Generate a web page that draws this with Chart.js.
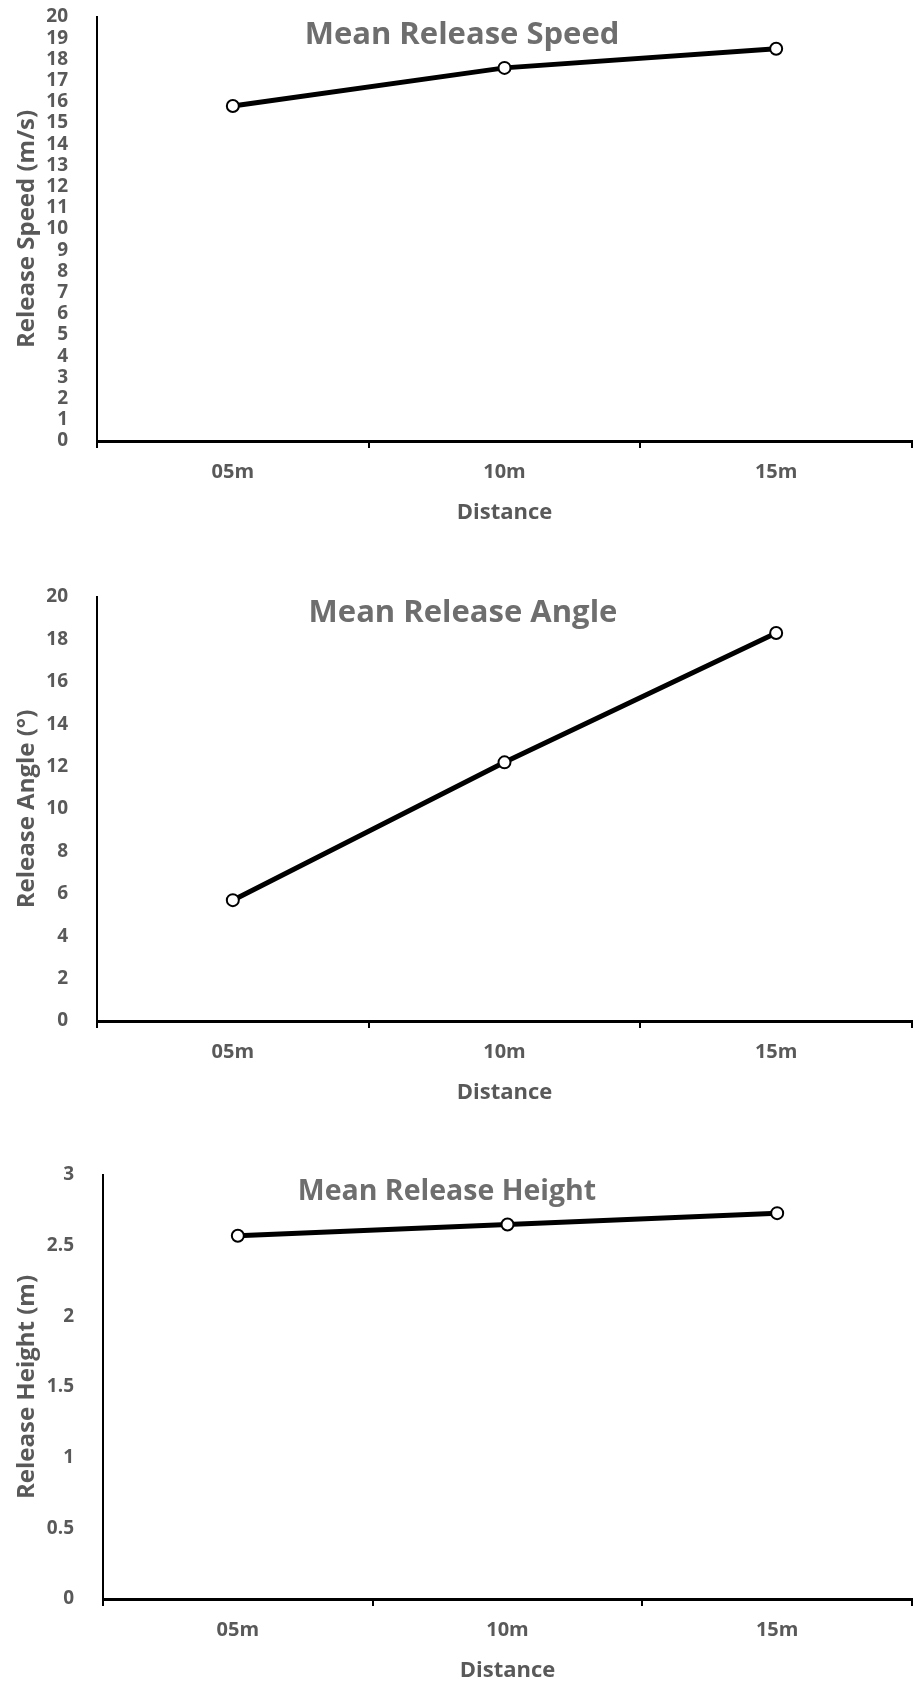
<!DOCTYPE html>
<html>
<head>
<meta charset="utf-8">
<script src="https://cdn.jsdelivr.net/npm/chart.js@4/dist/chart.umd.min.js"></script>
<style>
  body { margin: 0; background: #fff; overflow: hidden; }
  .box { position: absolute; left: 0; width: 920px; height: 524px; }
</style>
</head>
<body>
<div class="box" style="top:0px"><canvas id="speedChart"></canvas></div>
<div class="box" style="top:580px"><canvas id="angleChart"></canvas></div>
<div class="box" style="top:1158px"><canvas id="heightChart"></canvas></div>
<script>
// data
var distances = ['05m', '10m', '15m'];
var speedValues = [15.8, 17.6, 18.5];
var angleValues = [5.7, 12.2, 18.3];
var heightValues = [2.57, 2.65, 2.73];

var speedTicks = { min: 0, max: 20, step: 1 };
var angleTicks = { min: 0, max: 20, step: 2 };
var heightTicks = { min: 0, max: 3, step: 0.5 };

var FONT = '"Open Sans", Lato, sans-serif';
var GREY = '#595959';

// draws the chart title inside the plot area, like the original
var innerTitle = {
    id: 'innerTitle',
    afterDraw: function(chart, args, opts) {
        var ctx = chart.ctx;
        ctx.save();
        ctx.font = 'bold ' + opts.size + 'px ' + FONT;
        ctx.fillStyle = '#6e6e6e';
        ctx.textAlign = 'center';
        ctx.textBaseline = 'middle';
        ctx.fillText(opts.text, opts.x, opts.y);
        ctx.restore();
    }
};

function makeChart(id, values, yTitle, ticks, title, axisLeft) {
    var ctx = document.getElementById(id).getContext('2d');
    return new Chart(ctx, {
        type: 'line',
        data: {
            labels: distances,
            datasets: [{
                data: values,
                borderColor: '#000',
                borderWidth: 5,
                pointRadius: 6,
                pointHoverRadius: 6,
                pointBackgroundColor: '#fff',
                pointBorderColor: '#000',
                pointBorderWidth: 2,
                tension: 0,
                clip: false
            }]
        },
        options: {
            responsive: true,
            maintainAspectRatio: false,
            animation: false,
            layout: { padding: { top: 17, right: 0, bottom: 0, left: 0 } },
            plugins: {
                legend: { display: false },
                tooltip: { enabled: false },
                innerTitle: title
            },
            scales: {
                x: {
                    offset: true,
                    grid: {
                        offset: true,
                        drawOnChartArea: false,
                        drawTicks: true,
                        tickLength: 7,
                        color: '#000',
                        lineWidth: 2
                    },
                    border: { display: true, color: '#000', width: 3 },
                    ticks: {
                        color: GREY,
                        padding: 12,
                        font: { family: FONT, size: 20, weight: 'bold' }
                    },
                    title: {
                        display: true,
                        text: 'Distance',
                        color: GREY,
                        padding: { top: 0, bottom: 0 },
                        font: { family: FONT, size: 22, weight: 'bold', lineHeight: 1 }
                    },
                    afterFit: function(scale) { scale.height = 83; }
                },
                y: {
                    min: ticks.min,
                    max: ticks.max,
                    grid: { display: false },
                    border: { display: true, color: '#000', width: 2 },
                    ticks: {
                        stepSize: ticks.step,
                        autoSkip: false,
                        color: GREY,
                        padding: 21,
                        font: { family: FONT, size: 19, weight: 'bold' },
                        callback: function(v) { return String(Number(v)); }
                    },
                    title: {
                        display: true,
                        text: yTitle,
                        color: GREY,
                        padding: { top: 13, bottom: 0 },
                        font: { family: FONT, size: 24, weight: 'bold' }
                    },
                    afterFit: function(scale) {
                        scale.width = axisLeft;
                        // tick padding would otherwise push the plot down
                        scale.paddingTop = 12;
                        scale.paddingBottom = 12;
                    }
                }
            }
        },
        plugins: [innerTitle]
    });
}

makeChart('speedChart', speedValues, 'Release Speed (m/s)', speedTicks,
    { text: 'Mean Release Speed', x: 462, y: 35, size: 31 }, 97);
makeChart('angleChart', angleValues, 'Release Angle (°)', angleTicks,
    { text: 'Mean Release Angle', x: 463, y: 33, size: 31 }, 97);
makeChart('heightChart', heightValues, 'Release Height (m)', heightTicks,
    { text: 'Mean Release Height', x: 447, y: 34, size: 28.5 }, 103);
</script>
</body>
</html>
